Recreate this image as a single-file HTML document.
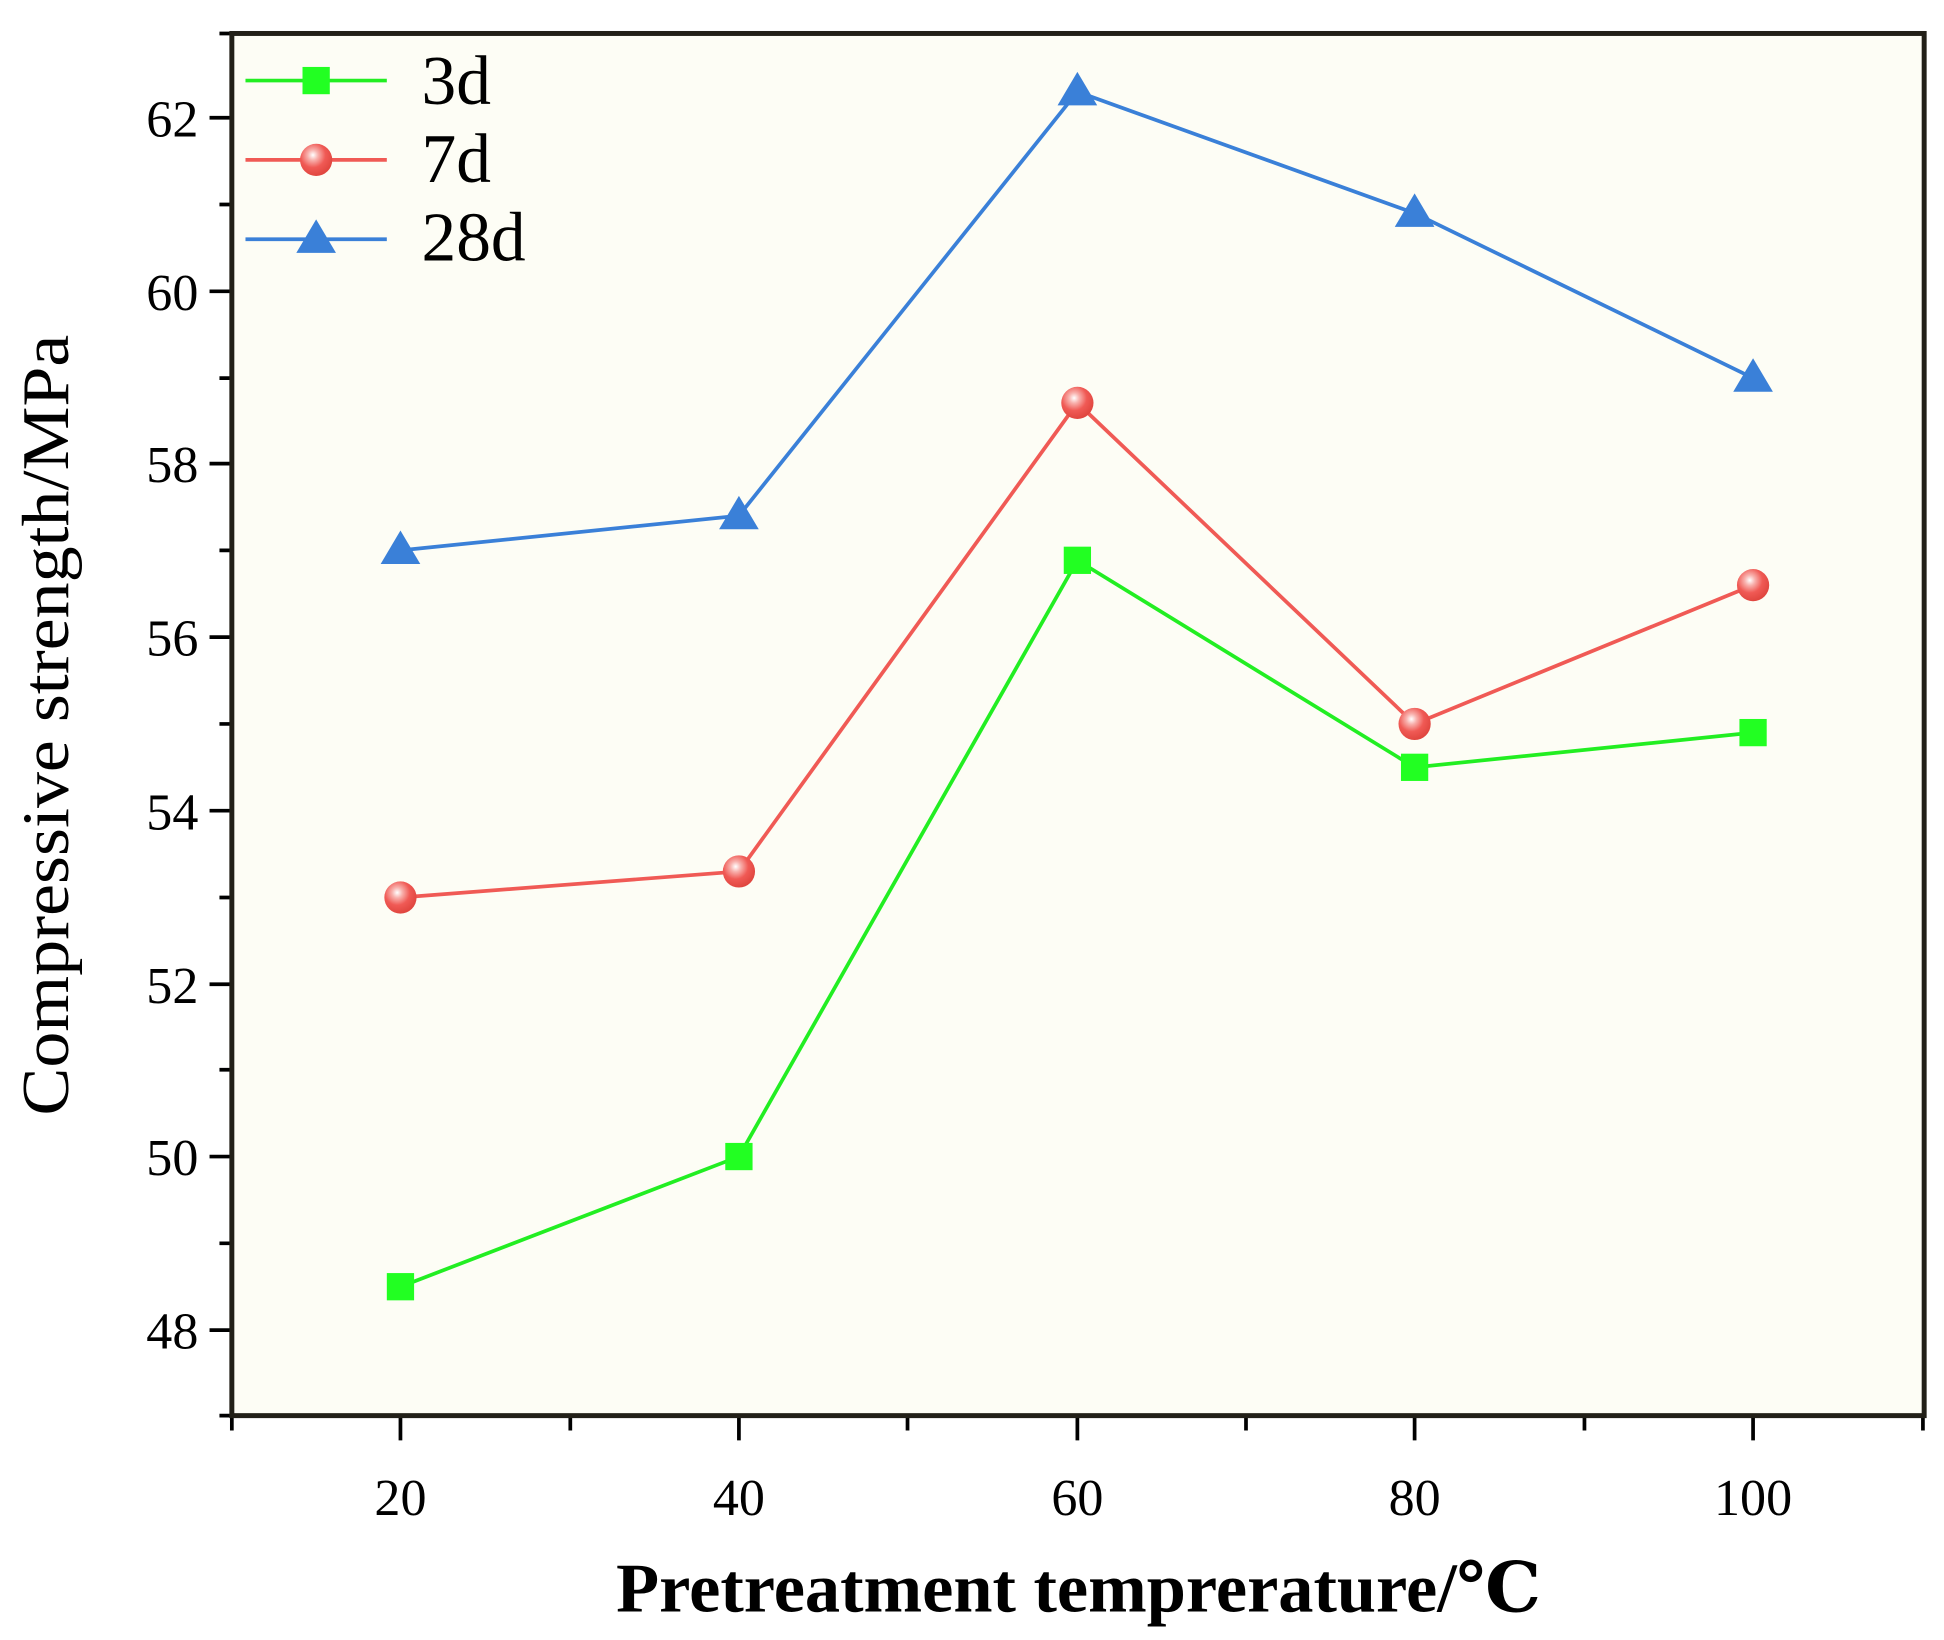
<!DOCTYPE html>
<html><head><meta charset="utf-8"><style>
html,body{margin:0;padding:0;background:#fff;}
svg{display:block;}
text{font-family:"Liberation Serif","DejaVu Serif",serif;fill:#000;}
</style></head><body>
<svg width="1944" height="1640" viewBox="0 0 1568 1323" preserveAspectRatio="none" xmlns="http://www.w3.org/2000/svg">
<defs>
<radialGradient id="ball" cx="0.4" cy="0.35" r="0.65">
<stop offset="0" stop-color="#fff"/><stop offset="0.25" stop-color="#f8b0ac"/><stop offset="0.6" stop-color="#f05a55"/><stop offset="1" stop-color="#e0463f"/>
</radialGradient>
</defs>
<rect x="187" y="27" width="1365" height="1115" fill="#fdfdf5"/>
<g stroke="#000" stroke-width="3" fill="none">
<!-- y ticks -->
<path d="M169 95H187M169 235H187M169 374H187M169 514H187M169 654H187M169 794H187M169 933H187M169 1073H187"/>
<path d="M177 165H187M177 305H187M177 444H187M177 584H187M177 724H187M177 863H187M177 1003H187M177 1142H187M177 27H187"/>
<!-- x ticks -->
<path d="M323 1142V1162M596 1142V1162M869 1142V1162M1141 1142V1162M1414 1142V1162"/>
<path d="M187 1142V1154M460 1142V1154M732 1142V1154M1005 1142V1154M1278 1142V1154M1551 1142V1154"/>
</g>
<rect x="187" y="27" width="1365" height="1115" fill="none" stroke="#222018" stroke-width="4"/>
<g font-size="42" text-anchor="end">
<text x="160" y="110">62</text><text x="160" y="250">60</text><text x="160" y="389">58</text><text x="160" y="529">56</text>
<text x="160" y="669">54</text><text x="160" y="809">52</text><text x="160" y="948">50</text><text x="160" y="1088">48</text>
</g>
<g font-size="42" text-anchor="middle">
<text x="323" y="1222">20</text><text x="596" y="1222">40</text><text x="869" y="1222">60</text><text x="1141" y="1222">80</text><text x="1414" y="1222">100</text>
</g>
<text x="0" y="0" font-size="54" text-anchor="middle" transform="translate(55 585) rotate(-90)" textLength="630" lengthAdjust="spacingAndGlyphs">Compressive strength/MPa</text>
<text x="870" y="1300" font-size="56" font-weight="bold" text-anchor="middle" textLength="746" lengthAdjust="spacingAndGlyphs">Pretreatment temprerature/℃</text>
<!-- series -->
<polyline fill="none" stroke="#22ee22" stroke-width="3" points="323,1038 596,933 869,452 1141,619 1414,591"/>
<polyline fill="none" stroke="#f05a55" stroke-width="3" points="323,724 596,703 869,325 1141,584 1414,472"/>
<polyline fill="none" stroke="#3a80d8" stroke-width="3" points="323,444 596,416 869,74 1141,172 1414,305"/>
<g fill="#22ff22">
<rect x="312" y="1027" width="22" height="22"/><rect x="585" y="922" width="22" height="22"/><rect x="858" y="441" width="22" height="22"/><rect x="1130" y="608" width="22" height="22"/><rect x="1403" y="580" width="22" height="22"/>
</g>
<g fill="url(#ball)">
<circle cx="323" cy="724" r="13"/><circle cx="596" cy="703" r="13"/><circle cx="869" cy="325" r="13"/><circle cx="1141" cy="584" r="13"/><circle cx="1414" cy="472" r="13"/>
</g>
<g fill="#3a80d8">
<path d="M323 428L339 455H307Z"/><path d="M596 400L612 427H580Z"/><path d="M869 58L885 85H853Z"/><path d="M1141 156L1157 183H1125Z"/><path d="M1414 289L1430 316H1398Z"/>
</g>
<!-- legend -->
<line x1="198" y1="65" x2="312" y2="65" stroke="#22ee22" stroke-width="3"/>
<rect x="244" y="54" width="22" height="22" fill="#22ff22"/>
<line x1="198" y1="129" x2="312" y2="129" stroke="#f05a55" stroke-width="3"/>
<circle cx="255" cy="129" r="13" fill="url(#ball)"/>
<line x1="198" y1="193" x2="312" y2="193" stroke="#3a80d8" stroke-width="3"/>
<path d="M255 177L271 204H239Z" fill="#3a80d8"/>
<g font-size="56" fill="#222">
<text x="340" y="84">3d</text><text x="340" y="147">7d</text><text x="340" y="210">28d</text>
</g>
</svg>
</body></html>
